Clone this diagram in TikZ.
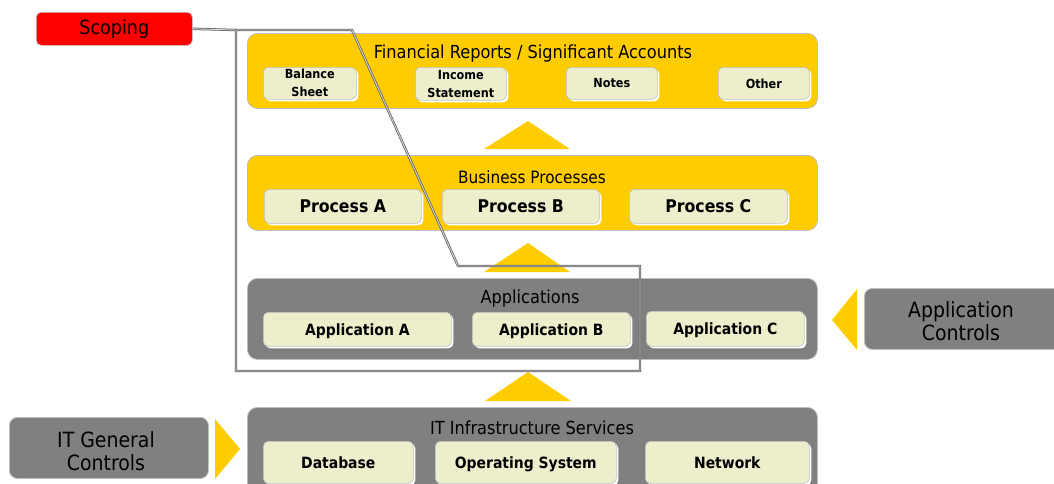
\documentclass[tikz,border=0pt]{standalone}
\usepackage{fontspec}
\setmainfont{DejaVu Sans Condensed}
\usetikzlibrary{shadows}
\definecolor{amber}{RGB}{255,204,0}
\definecolor{slab}{RGB}{128,128,128}
\definecolor{cream}{RGB}{237,239,204}
\definecolor{rim}{RGB}{190,190,190}
\definecolor{scopered}{RGB}{255,0,0}
\definecolor{traceline}{RGB}{95,95,95}
\definecolor{tracefill}{RGB}{215,215,215}
\tikzset{
  layer/.style={rounded corners=10pt, draw=rim, line width=0.8pt, inner sep=0pt, anchor=north west},
  goldlayer/.style={layer, fill=amber},
  greylayer/.style={layer, fill=slab},
  layertitle/.style={font=\fontsize{18}{21}\selectfont, text=black, inner sep=0pt},
  tile/.style={rounded corners=5pt, fill=cream, draw=rim, line width=0.6pt, inner sep=0pt,
    anchor=north west, align=center, text=black,
    drop shadow={fill=white, opacity=1, shadow xshift=2pt, shadow yshift=-2pt}},
  oneline/.style={text depth=0pt},
  smalltile/.style={tile, font=\bfseries\fontsize{12.5}{18}\selectfont},
  bigtile/.style={tile, oneline, font=\bfseries\fontsize{17.5}{20}\selectfont},
  midtile/.style={tile, oneline, font=\bfseries\fontsize{15.5}{18}\selectfont},
  sidebox/.style={rounded corners=8pt, fill=slab, draw=rim, line width=0.8pt, inner sep=0pt,
    anchor=north west},
  sidetext/.style={align=center, text=black, inner sep=0pt, font=\fontsize{21}{23.5}\selectfont},
  scopebox/.style={rounded corners=5pt, fill=scopered, draw=rim, line width=0.6pt, inner sep=0pt,
    anchor=north west, text=black, font=\fontsize{19.5}{22}\selectfont},
  lift/.style={fill=amber},
  trace/.style={draw=traceline, line width=0.75pt, double=tracefill, double distance=0.9pt, line join=miter}
}
\begin{document}
\begin{tikzpicture}[x=1pt,y=-1pt]
\useasboundingbox (0,0) rectangle (1054,483);

% Financial reports layer
\node[goldlayer, minimum width=570pt, minimum height=75pt] (fin) at (247,33) {};
\node[layertitle] (finT) at (533,54) {Financial Reports / Significant Accounts};
\node[smalltile, minimum width=93pt, minimum height=32pt] (bal) at (263,67) {Balance\\Sheet};
\node[smalltile, minimum width=91pt, minimum height=33pt] (inc) at (415,67) {Income\\Statement};
\node[smalltile, oneline, minimum width=91pt, minimum height=32pt] (notes) at (566,67) {Notes};
\node[smalltile, oneline, minimum width=91pt, minimum height=32pt] (other) at (718,67) {Other};

% Business processes layer
\node[goldlayer, minimum width=570pt, minimum height=75pt] (bp) at (247,155) {};
\node[layertitle, font=\fontsize{17}{20}\selectfont] (bpT) at (532,177) {Business Processes};
\node[bigtile, minimum width=157pt, minimum height=34pt] (pa) at (264,189) {Process A};
\node[bigtile, minimum width=157pt, minimum height=34pt] (pb) at (442,189) {Process B};
\node[bigtile, minimum width=158pt, minimum height=34pt] (pc) at (629,189) {Process C};

% Applications layer
\node[greylayer, minimum width=570pt, minimum height=81pt] (app) at (247,278) {};
\node[layertitle] (appT) at (530,299) {Applications};
\node[midtile, minimum width=188pt, minimum height=34pt] (aa) at (263,312) {Application A};
\node[midtile, minimum width=158pt, minimum height=34pt] (ab) at (472,312) {Application B};
\node[midtile, minimum width=158pt, minimum height=35pt] (ac) at (646,311) {Application C};

% IT infrastructure layer
\node[greylayer, minimum width=570pt, minimum height=90pt] (it) at (247,407) {};
\node[layertitle] (itT) at (532,428) {IT Infrastructure Services};
\node[midtile, minimum width=150pt, minimum height=42pt] (db) at (263,441) {Database};
\node[midtile, minimum width=181pt, minimum height=42pt] (os) at (435,441) {Operating System};
\node[midtile, minimum width=164pt, minimum height=42pt] (net) at (645,441) {Network};

% upward arrows between layers
\fill[lift] (484,149) -- (570,149) -- (528,121) -- cycle;
\fill[lift] (484,272) -- (570,272) -- (528,243) -- cycle;
\fill[lift] (485,401) -- (571,401) -- (528,372) -- cycle;

% control boxes and their pointers
\node[sidebox, minimum width=199pt, minimum height=61pt] (itgc) at (9,417) {};
\node[sidetext] (itgcT) at (106,451) {IT General\\Controls};
\fill[lift] (215,419) -- (240,449) -- (215,479) -- cycle;
\node[sidebox, minimum width=215pt, minimum height=61pt] (acb) at (864,288) {};
\node[sidetext] (acbT) at (961,321) {Application\\Controls};
\fill[lift] (857,289) -- (832,320) -- (857,350) -- cycle;

% scoping boundary
\node[scopebox, minimum width=156pt, minimum height=33pt] (scope) at (36,12) {Scoping};
\coordinate (s1) at (236,30);
\coordinate (s2) at (352,30);
\coordinate (s3) at (458,266);
\coordinate (s4) at (640,266);
\coordinate (s5) at (640,371);
\coordinate (s6) at (236,371);
\draw[trace] (scope.east) -- (s1);
\draw[trace] (s1) -- (s2) -- (s3) -- (s4) -- (s5) -- (s6) -- cycle;
\end{tikzpicture}
\end{document}
